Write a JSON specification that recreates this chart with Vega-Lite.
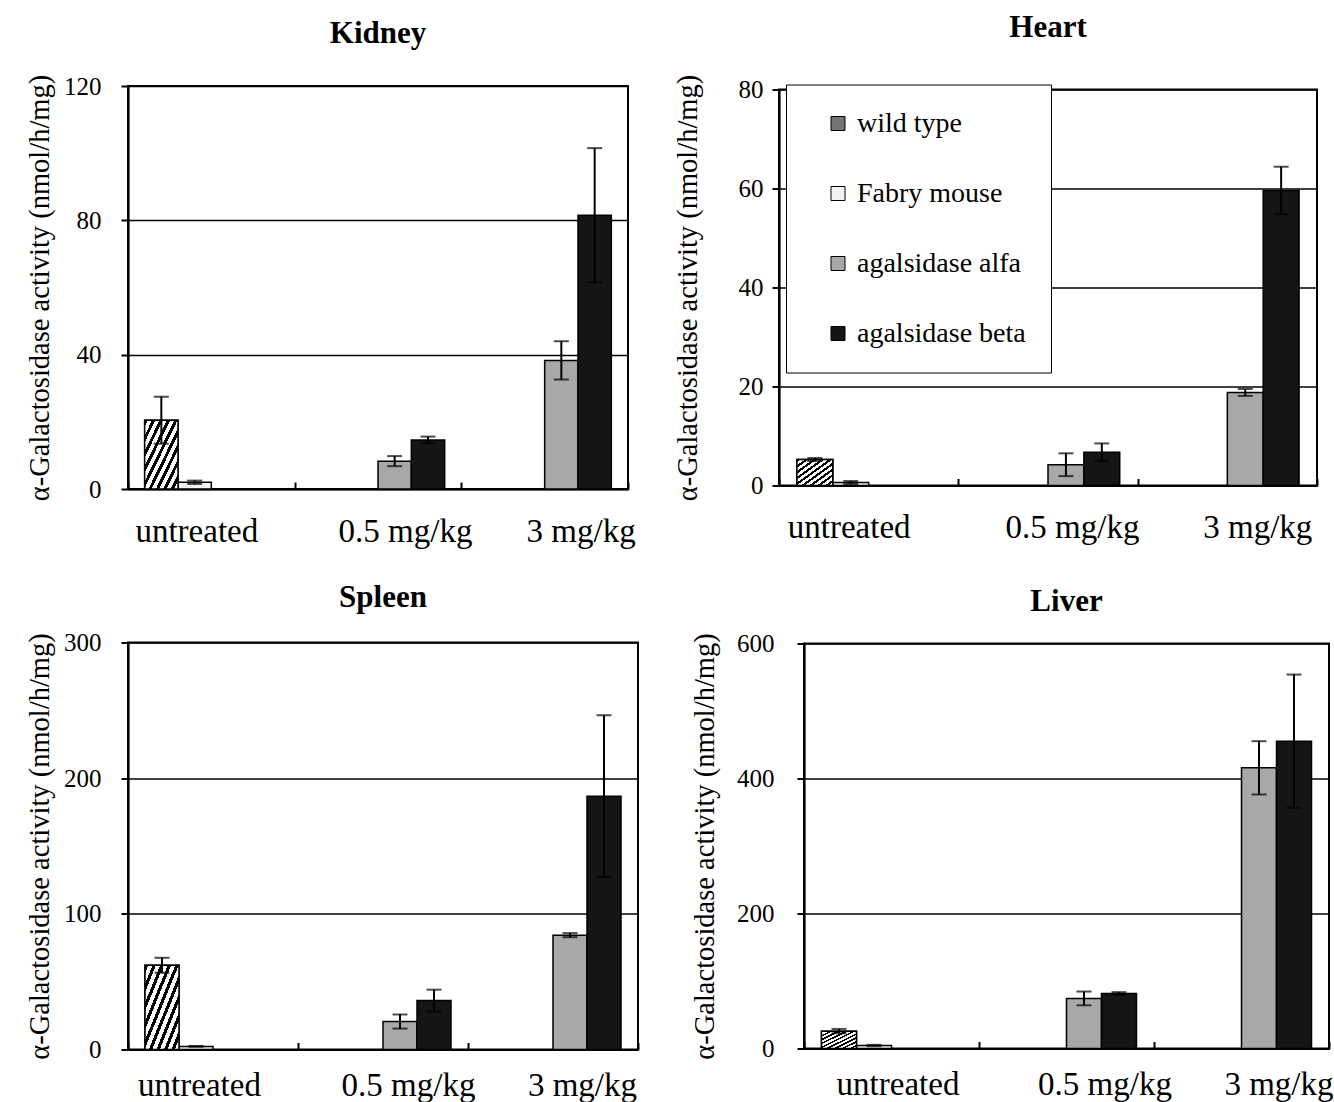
{
  "$schema": "https://vega.github.io/schema/vega-lite/v6.json",
  "background": "white",
  "padding": {"left": 24, "top": 11, "right": 0, "bottom": 0},
  "config": {
    "font": "Liberation Serif",
    "view": {"stroke": "black", "strokeWidth": 2},
    "axis": {
      "labelFont": "Liberation Serif",
      "titleFont": "Liberation Serif",
      "titleFontWeight": "normal",
      "labelColor": "black",
      "titleColor": "black",
      "domainColor": "black",
      "tickColor": "black",
      "gridColor": "black",
      "domainWidth": 2.2,
      "tickWidth": 2,
      "gridWidth": 1.4
    },
    "axisY": {"grid": true, "tickSize": 7, "labelFontSize": 25, "titleFontSize": 28.5},
    "axisX": {"grid": false, "tickBand": "extent", "tickSize": -7, "labelFontSize": 33, "labelAngle": 0, "labelPadding": 33},
    "title": {"font": "Liberation Serif", "fontSize": 31, "fontWeight": "bold", "color": "black"}
  },
  "datasets": {
    "kidney": [
      {"dose": "untreated", "group": "wild type", "value": 20.5, "lo": 13.5, "hi": 27.5},
      {"dose": "untreated", "group": "Fabry mouse", "value": 2.0, "lo": 1.5, "hi": 2.5},
      {"dose": "0.5 mg/kg", "group": "agalsidase alfa", "value": 8.3, "lo": 6.8, "hi": 9.8},
      {"dose": "0.5 mg/kg", "group": "agalsidase beta", "value": 14.6, "lo": 13.6, "hi": 15.6},
      {"dose": "3 mg/kg", "group": "agalsidase alfa", "value": 38.3, "lo": 32.6, "hi": 44.0},
      {"dose": "3 mg/kg", "group": "agalsidase beta", "value": 81.5, "lo": 61.5, "hi": 101.5}
    ],
    "heart": [
      {"dose": "untreated", "group": "wild type", "value": 5.25, "lo": 4.95, "hi": 5.55},
      {"dose": "untreated", "group": "Fabry mouse", "value": 0.6, "lo": 0.3, "hi": 0.9},
      {"dose": "0.5 mg/kg", "group": "agalsidase alfa", "value": 4.2, "lo": 1.9, "hi": 6.5},
      {"dose": "0.5 mg/kg", "group": "agalsidase beta", "value": 6.7, "lo": 4.9, "hi": 8.5},
      {"dose": "3 mg/kg", "group": "agalsidase alfa", "value": 18.8, "lo": 18.1, "hi": 19.5},
      {"dose": "3 mg/kg", "group": "agalsidase beta", "value": 59.6, "lo": 54.8, "hi": 64.4}
    ],
    "spleen": [
      {"dose": "untreated", "group": "wild type", "value": 62.1, "lo": 56.6, "hi": 67.6},
      {"dose": "untreated", "group": "Fabry mouse", "value": 2.3, "lo": 2.0, "hi": 2.6},
      {"dose": "0.5 mg/kg", "group": "agalsidase alfa", "value": 20.6, "lo": 15.4, "hi": 25.8},
      {"dose": "0.5 mg/kg", "group": "agalsidase beta", "value": 36.1, "lo": 28.1, "hi": 44.1},
      {"dose": "3 mg/kg", "group": "agalsidase alfa", "value": 84.3, "lo": 82.8, "hi": 85.8},
      {"dose": "3 mg/kg", "group": "agalsidase beta", "value": 186.7, "lo": 127.0, "hi": 246.4}
    ],
    "liver": [
      {"dose": "untreated", "group": "wild type", "value": 25.7, "lo": 22.5, "hi": 29.0},
      {"dose": "untreated", "group": "Fabry mouse", "value": 4.4, "lo": 3.4, "hi": 5.4},
      {"dose": "0.5 mg/kg", "group": "agalsidase alfa", "value": 74.0, "lo": 64.0, "hi": 84.4},
      {"dose": "0.5 mg/kg", "group": "agalsidase beta", "value": 81.5, "lo": 79.5, "hi": 83.5},
      {"dose": "3 mg/kg", "group": "agalsidase alfa", "value": 415.8, "lo": 376.3, "hi": 455.3},
      {"dose": "3 mg/kg", "group": "agalsidase beta", "value": 455.3, "lo": 356.6, "hi": 554.0}
    ]
  },
  "spacing": 31.5,
  "resolve": {"scale": {"color": "independent", "x": "independent", "y": "independent", "xOffset": "independent"}, "legend": {"color": "independent"}},
  "vconcat": [
    {
      "hconcat": [
        {
          "width": 500, "height": 403,
          "title": {"text": "Kidney", "offset": 24.5},
          "data": {"name": "kidney"},
          "layer": [
            {
              "mark": {"type": "bar", "stroke": "black", "strokeWidth": 1.5},
              "encoding": {
                "x": {"field": "dose", "type": "nominal", "sort": ["untreated", "0.5 mg/kg", "3 mg/kg"], "scale": {"paddingInner": 0, "paddingOuter": 0}, "title": null,
                  "axis": {"labelOffset": {"condition": [{"test": "datum.value === 'untreated'", "value": -15}, {"test": "datum.value === '0.5 mg/kg'", "value": 27}], "value": 36}}},
                "xOffset": {"field": "group", "type": "nominal", "scale": {"domain": ["wild type", "Fabry mouse", "agalsidase alfa", "agalsidase beta"], "paddingInner": 0, "paddingOuter": 0.5}},
                "y": {"field": "value", "type": "quantitative", "scale": {"domain": [0, 120]},
                  "axis": {"values": [0, 40, 80, 120], "labelPadding": 20, "title": "α-Galactosidase activity (nmol/h/mg)", "titlePadding": 9}},
                "color": {"field": "group", "type": "nominal", "scale": {"domain": ["wild type", "Fabry mouse", "agalsidase alfa", "agalsidase beta"], "range": ["#747474", "#f2f2f2", "#a8a8a8", "#151515"]}, "legend": null}
              }
            },
            {
              "transform": [{"filter": "datum.group === 'wild type'"}],
              "mark": {"type": "bar", "stroke": "black", "strokeWidth": 1.5,
                "fill": {"gradient": "linear", "x1": 0, "y1": 0, "x2": 1, "y2": 1, "stops": [
                  {"offset": 0, "color": "black"}, {"offset": 0.05, "color": "black"}, {"offset": 0.05, "color": "white"}, {"offset": 0.1111, "color": "white"},
                  {"offset": 0.1111, "color": "black"}, {"offset": 0.1611, "color": "black"}, {"offset": 0.1611, "color": "white"}, {"offset": 0.2222, "color": "white"},
                  {"offset": 0.2222, "color": "black"}, {"offset": 0.2722, "color": "black"}, {"offset": 0.2722, "color": "white"}, {"offset": 0.3333, "color": "white"},
                  {"offset": 0.3333, "color": "black"}, {"offset": 0.3833, "color": "black"}, {"offset": 0.3833, "color": "white"}, {"offset": 0.4444, "color": "white"},
                  {"offset": 0.4444, "color": "black"}, {"offset": 0.4944, "color": "black"}, {"offset": 0.4944, "color": "white"}, {"offset": 0.5556, "color": "white"},
                  {"offset": 0.5556, "color": "black"}, {"offset": 0.6056, "color": "black"}, {"offset": 0.6056, "color": "white"}, {"offset": 0.6667, "color": "white"},
                  {"offset": 0.6667, "color": "black"}, {"offset": 0.7167, "color": "black"}, {"offset": 0.7167, "color": "white"}, {"offset": 0.7778, "color": "white"},
                  {"offset": 0.7778, "color": "black"}, {"offset": 0.8278, "color": "black"}, {"offset": 0.8278, "color": "white"}, {"offset": 0.8889, "color": "white"},
                  {"offset": 0.8889, "color": "black"}, {"offset": 0.9389, "color": "black"}, {"offset": 0.9389, "color": "white"}, {"offset": 1, "color": "white"}]}},
              "encoding": {
                "x": {"field": "dose", "type": "nominal", "sort": ["untreated", "0.5 mg/kg", "3 mg/kg"]},
                "xOffset": {"field": "group", "type": "nominal"},
                "y": {"field": "value", "type": "quantitative"}
              }
            },
            {
              "mark": {"type": "rule", "color": "black", "strokeWidth": 2},
              "encoding": {
                "x": {"field": "dose", "type": "nominal", "sort": ["untreated", "0.5 mg/kg", "3 mg/kg"]},
                "xOffset": {"field": "group", "type": "nominal"},
                "y": {"field": "lo", "type": "quantitative"},
                "y2": {"field": "hi"}
              }
            },
            {
              "mark": {"type": "tick", "color": "black", "thickness": 2, "size": 15},
              "encoding": {
                "x": {"field": "dose", "type": "nominal", "sort": ["untreated", "0.5 mg/kg", "3 mg/kg"]},
                "xOffset": {"field": "group", "type": "nominal"},
                "y": {"field": "hi", "type": "quantitative"}
              }
            },
            {
              "mark": {"type": "tick", "color": "black", "thickness": 2, "size": 15},
              "encoding": {
                "x": {"field": "dose", "type": "nominal", "sort": ["untreated", "0.5 mg/kg", "3 mg/kg"]},
                "xOffset": {"field": "group", "type": "nominal"},
                "y": {"field": "lo", "type": "quantitative"}
              }
            }
          ]
        },
        {
          "width": 538, "height": 396,
          "title": {"text": "Heart", "offset": 30},
          "data": {"name": "heart"},
          "layer": [
            {
              "mark": {"type": "bar", "stroke": "black", "strokeWidth": 1.5},
              "encoding": {
                "x": {"field": "dose", "type": "nominal", "sort": ["untreated", "0.5 mg/kg", "3 mg/kg"], "scale": {"paddingInner": 0, "paddingOuter": 0}, "title": null,
                  "axis": {"labelOffset": {"condition": [{"test": "datum.value === 'untreated'", "value": -20}, {"test": "datum.value === '0.5 mg/kg'", "value": 24}], "value": 30}}},
                "xOffset": {"field": "group", "type": "nominal", "scale": {"domain": ["wild type", "Fabry mouse", "agalsidase alfa", "agalsidase beta"], "paddingInner": 0, "paddingOuter": 0.5}},
                "y": {"field": "value", "type": "quantitative", "scale": {"domain": [0, 80]},
                  "axis": {"values": [0, 20, 40, 60, 80], "labelPadding": 9, "title": "α-Galactosidase activity (nmol/h/mg)", "titlePadding": 36}},
                "color": {"field": "group", "type": "nominal", "scale": {"domain": ["wild type", "Fabry mouse", "agalsidase alfa", "agalsidase beta"], "range": ["#747474", "#f2f2f2", "#a8a8a8", "#151515"]},
                  "legend": {"orient": "none", "legendX": 7, "legendY": -5, "title": null, "strokeColor": "black", "fillColor": "white", "padding": 25,
                    "labelFontSize": 28, "labelFont": "Liberation Serif", "labelColor": "black", "symbolType": "square", "symbolSize": 196,
                    "symbolStrokeColor": "black", "symbolStrokeWidth": 1, "rowPadding": 42, "symbolOffset": 13, "labelOffset": 5, "labelLimit": 400}}
              }
            },
            {
              "transform": [{"filter": "datum.group === 'wild type'"}],
              "mark": {"type": "bar", "stroke": "black", "strokeWidth": 1.5,
                "fill": {"gradient": "linear", "x1": 0, "y1": 0, "x2": 1, "y2": 1, "stops": [
                  {"offset": 0, "color": "black"}, {"offset": 0.05, "color": "black"}, {"offset": 0.05, "color": "white"}, {"offset": 0.1111, "color": "white"},
                  {"offset": 0.1111, "color": "black"}, {"offset": 0.1611, "color": "black"}, {"offset": 0.1611, "color": "white"}, {"offset": 0.2222, "color": "white"},
                  {"offset": 0.2222, "color": "black"}, {"offset": 0.2722, "color": "black"}, {"offset": 0.2722, "color": "white"}, {"offset": 0.3333, "color": "white"},
                  {"offset": 0.3333, "color": "black"}, {"offset": 0.3833, "color": "black"}, {"offset": 0.3833, "color": "white"}, {"offset": 0.4444, "color": "white"},
                  {"offset": 0.4444, "color": "black"}, {"offset": 0.4944, "color": "black"}, {"offset": 0.4944, "color": "white"}, {"offset": 0.5556, "color": "white"},
                  {"offset": 0.5556, "color": "black"}, {"offset": 0.6056, "color": "black"}, {"offset": 0.6056, "color": "white"}, {"offset": 0.6667, "color": "white"},
                  {"offset": 0.6667, "color": "black"}, {"offset": 0.7167, "color": "black"}, {"offset": 0.7167, "color": "white"}, {"offset": 0.7778, "color": "white"},
                  {"offset": 0.7778, "color": "black"}, {"offset": 0.8278, "color": "black"}, {"offset": 0.8278, "color": "white"}, {"offset": 0.8889, "color": "white"},
                  {"offset": 0.8889, "color": "black"}, {"offset": 0.9389, "color": "black"}, {"offset": 0.9389, "color": "white"}, {"offset": 1, "color": "white"}]}},
              "encoding": {
                "x": {"field": "dose", "type": "nominal", "sort": ["untreated", "0.5 mg/kg", "3 mg/kg"]},
                "xOffset": {"field": "group", "type": "nominal"},
                "y": {"field": "value", "type": "quantitative"}
              }
            },
            {
              "mark": {"type": "rule", "color": "black", "strokeWidth": 2},
              "encoding": {
                "x": {"field": "dose", "type": "nominal", "sort": ["untreated", "0.5 mg/kg", "3 mg/kg"]},
                "xOffset": {"field": "group", "type": "nominal"},
                "y": {"field": "lo", "type": "quantitative"},
                "y2": {"field": "hi"}
              }
            },
            {
              "mark": {"type": "tick", "color": "black", "thickness": 2, "size": 15},
              "encoding": {
                "x": {"field": "dose", "type": "nominal", "sort": ["untreated", "0.5 mg/kg", "3 mg/kg"]},
                "xOffset": {"field": "group", "type": "nominal"},
                "y": {"field": "hi", "type": "quantitative"}
              }
            },
            {
              "mark": {"type": "tick", "color": "black", "thickness": 2, "size": 15},
              "encoding": {
                "x": {"field": "dose", "type": "nominal", "sort": ["untreated", "0.5 mg/kg", "3 mg/kg"]},
                "xOffset": {"field": "group", "type": "nominal"},
                "y": {"field": "lo", "type": "quantitative"}
              }
            }
          ]
        }
      ],
      "spacing": 35,
      "center": true,
      "resolve": {"scale": {"color": "independent", "x": "independent", "y": "independent", "xOffset": "independent"}, "legend": {"color": "independent"}}
    },
    {
      "hconcat": [
        {
          "width": 510, "height": 407,
          "title": {"text": "Spleen", "offset": 17},
          "data": {"name": "spleen"},
          "layer": [
            {
              "mark": {"type": "bar", "stroke": "black", "strokeWidth": 1.5},
              "encoding": {
                "x": {"field": "dose", "type": "nominal", "sort": ["untreated", "0.5 mg/kg", "3 mg/kg"], "scale": {"paddingInner": 0, "paddingOuter": 0}, "title": null,
                  "axis": {"labelPadding": 27, "labelOffset": {"condition": [{"test": "datum.value === 'untreated'", "value": -14}, {"test": "datum.value === '0.5 mg/kg'", "value": 25}], "value": 29}}},
                "xOffset": {"field": "group", "type": "nominal", "scale": {"domain": ["wild type", "Fabry mouse", "agalsidase alfa", "agalsidase beta"], "paddingInner": 0, "paddingOuter": 0.5}},
                "y": {"field": "value", "type": "quantitative", "scale": {"domain": [0, 300]},
                  "axis": {"values": [0, 100, 200, 300], "labelPadding": 20, "title": "α-Galactosidase activity (nmol/h/mg)", "titlePadding": 9}},
                "color": {"field": "group", "type": "nominal", "scale": {"domain": ["wild type", "Fabry mouse", "agalsidase alfa", "agalsidase beta"], "range": ["#747474", "#f2f2f2", "#a8a8a8", "#151515"]}, "legend": null}
              }
            },
            {
              "transform": [{"filter": "datum.group === 'wild type'"}],
              "mark": {"type": "bar", "stroke": "black", "strokeWidth": 1.5,
                "fill": {"gradient": "linear", "x1": 0, "y1": 0, "x2": 1, "y2": 1, "stops": [
                  {"offset": 0, "color": "black"}, {"offset": 0.05, "color": "black"}, {"offset": 0.05, "color": "white"}, {"offset": 0.1111, "color": "white"},
                  {"offset": 0.1111, "color": "black"}, {"offset": 0.1611, "color": "black"}, {"offset": 0.1611, "color": "white"}, {"offset": 0.2222, "color": "white"},
                  {"offset": 0.2222, "color": "black"}, {"offset": 0.2722, "color": "black"}, {"offset": 0.2722, "color": "white"}, {"offset": 0.3333, "color": "white"},
                  {"offset": 0.3333, "color": "black"}, {"offset": 0.3833, "color": "black"}, {"offset": 0.3833, "color": "white"}, {"offset": 0.4444, "color": "white"},
                  {"offset": 0.4444, "color": "black"}, {"offset": 0.4944, "color": "black"}, {"offset": 0.4944, "color": "white"}, {"offset": 0.5556, "color": "white"},
                  {"offset": 0.5556, "color": "black"}, {"offset": 0.6056, "color": "black"}, {"offset": 0.6056, "color": "white"}, {"offset": 0.6667, "color": "white"},
                  {"offset": 0.6667, "color": "black"}, {"offset": 0.7167, "color": "black"}, {"offset": 0.7167, "color": "white"}, {"offset": 0.7778, "color": "white"},
                  {"offset": 0.7778, "color": "black"}, {"offset": 0.8278, "color": "black"}, {"offset": 0.8278, "color": "white"}, {"offset": 0.8889, "color": "white"},
                  {"offset": 0.8889, "color": "black"}, {"offset": 0.9389, "color": "black"}, {"offset": 0.9389, "color": "white"}, {"offset": 1, "color": "white"}]}},
              "encoding": {
                "x": {"field": "dose", "type": "nominal", "sort": ["untreated", "0.5 mg/kg", "3 mg/kg"]},
                "xOffset": {"field": "group", "type": "nominal"},
                "y": {"field": "value", "type": "quantitative"}
              }
            },
            {
              "mark": {"type": "rule", "color": "black", "strokeWidth": 2},
              "encoding": {
                "x": {"field": "dose", "type": "nominal", "sort": ["untreated", "0.5 mg/kg", "3 mg/kg"]},
                "xOffset": {"field": "group", "type": "nominal"},
                "y": {"field": "lo", "type": "quantitative"},
                "y2": {"field": "hi"}
              }
            },
            {
              "mark": {"type": "tick", "color": "black", "thickness": 2, "size": 15},
              "encoding": {
                "x": {"field": "dose", "type": "nominal", "sort": ["untreated", "0.5 mg/kg", "3 mg/kg"]},
                "xOffset": {"field": "group", "type": "nominal"},
                "y": {"field": "hi", "type": "quantitative"}
              }
            },
            {
              "mark": {"type": "tick", "color": "black", "thickness": 2, "size": 15},
              "encoding": {
                "x": {"field": "dose", "type": "nominal", "sort": ["untreated", "0.5 mg/kg", "3 mg/kg"]},
                "xOffset": {"field": "group", "type": "nominal"},
                "y": {"field": "lo", "type": "quantitative"}
              }
            }
          ]
        },
        {
          "width": 525, "height": 405,
          "title": {"text": "Liver", "offset": 14},
          "data": {"name": "liver"},
          "layer": [
            {
              "mark": {"type": "bar", "stroke": "black", "strokeWidth": 1.5},
              "encoding": {
                "x": {"field": "dose", "type": "nominal", "sort": ["untreated", "0.5 mg/kg", "3 mg/kg"], "scale": {"paddingInner": 0, "paddingOuter": 0}, "title": null,
                  "axis": {"labelPadding": 27, "labelOffset": {"condition": [{"test": "datum.value === 'untreated'", "value": 6}, {"test": "datum.value === '0.5 mg/kg'", "value": 38}], "value": 37}}},
                "xOffset": {"field": "group", "type": "nominal", "scale": {"domain": ["wild type", "Fabry mouse", "agalsidase alfa", "agalsidase beta"], "paddingInner": 0, "paddingOuter": 0.5}},
                "y": {"field": "value", "type": "quantitative", "scale": {"domain": [0, 600]},
                  "axis": {"values": [0, 200, 400, 600], "labelPadding": 23, "title": "α-Galactosidase activity (nmol/h/mg)", "titlePadding": 17}},
                "color": {"field": "group", "type": "nominal", "scale": {"domain": ["wild type", "Fabry mouse", "agalsidase alfa", "agalsidase beta"], "range": ["#747474", "#f2f2f2", "#a8a8a8", "#151515"]}, "legend": null}
              }
            },
            {
              "transform": [{"filter": "datum.group === 'wild type'"}],
              "mark": {"type": "bar", "stroke": "black", "strokeWidth": 1.5,
                "fill": {"gradient": "linear", "x1": 0, "y1": 0, "x2": 1, "y2": 1, "stops": [
                  {"offset": 0, "color": "black"}, {"offset": 0.05, "color": "black"}, {"offset": 0.05, "color": "white"}, {"offset": 0.1111, "color": "white"},
                  {"offset": 0.1111, "color": "black"}, {"offset": 0.1611, "color": "black"}, {"offset": 0.1611, "color": "white"}, {"offset": 0.2222, "color": "white"},
                  {"offset": 0.2222, "color": "black"}, {"offset": 0.2722, "color": "black"}, {"offset": 0.2722, "color": "white"}, {"offset": 0.3333, "color": "white"},
                  {"offset": 0.3333, "color": "black"}, {"offset": 0.3833, "color": "black"}, {"offset": 0.3833, "color": "white"}, {"offset": 0.4444, "color": "white"},
                  {"offset": 0.4444, "color": "black"}, {"offset": 0.4944, "color": "black"}, {"offset": 0.4944, "color": "white"}, {"offset": 0.5556, "color": "white"},
                  {"offset": 0.5556, "color": "black"}, {"offset": 0.6056, "color": "black"}, {"offset": 0.6056, "color": "white"}, {"offset": 0.6667, "color": "white"},
                  {"offset": 0.6667, "color": "black"}, {"offset": 0.7167, "color": "black"}, {"offset": 0.7167, "color": "white"}, {"offset": 0.7778, "color": "white"},
                  {"offset": 0.7778, "color": "black"}, {"offset": 0.8278, "color": "black"}, {"offset": 0.8278, "color": "white"}, {"offset": 0.8889, "color": "white"},
                  {"offset": 0.8889, "color": "black"}, {"offset": 0.9389, "color": "black"}, {"offset": 0.9389, "color": "white"}, {"offset": 1, "color": "white"}]}},
              "encoding": {
                "x": {"field": "dose", "type": "nominal", "sort": ["untreated", "0.5 mg/kg", "3 mg/kg"]},
                "xOffset": {"field": "group", "type": "nominal"},
                "y": {"field": "value", "type": "quantitative"}
              }
            },
            {
              "mark": {"type": "rule", "color": "black", "strokeWidth": 2},
              "encoding": {
                "x": {"field": "dose", "type": "nominal", "sort": ["untreated", "0.5 mg/kg", "3 mg/kg"]},
                "xOffset": {"field": "group", "type": "nominal"},
                "y": {"field": "lo", "type": "quantitative"},
                "y2": {"field": "hi"}
              }
            },
            {
              "mark": {"type": "tick", "color": "black", "thickness": 2, "size": 15},
              "encoding": {
                "x": {"field": "dose", "type": "nominal", "sort": ["untreated", "0.5 mg/kg", "3 mg/kg"]},
                "xOffset": {"field": "group", "type": "nominal"},
                "y": {"field": "hi", "type": "quantitative"}
              }
            },
            {
              "mark": {"type": "tick", "color": "black", "thickness": 2, "size": 15},
              "encoding": {
                "x": {"field": "dose", "type": "nominal", "sort": ["untreated", "0.5 mg/kg", "3 mg/kg"]},
                "xOffset": {"field": "group", "type": "nominal"},
                "y": {"field": "lo", "type": "quantitative"}
              }
            }
          ]
        }
      ],
      "spacing": 49,
      "center": true,
      "resolve": {"scale": {"color": "independent", "x": "independent", "y": "independent", "xOffset": "independent"}, "legend": {"color": "independent"}}
    }
  ]
}
